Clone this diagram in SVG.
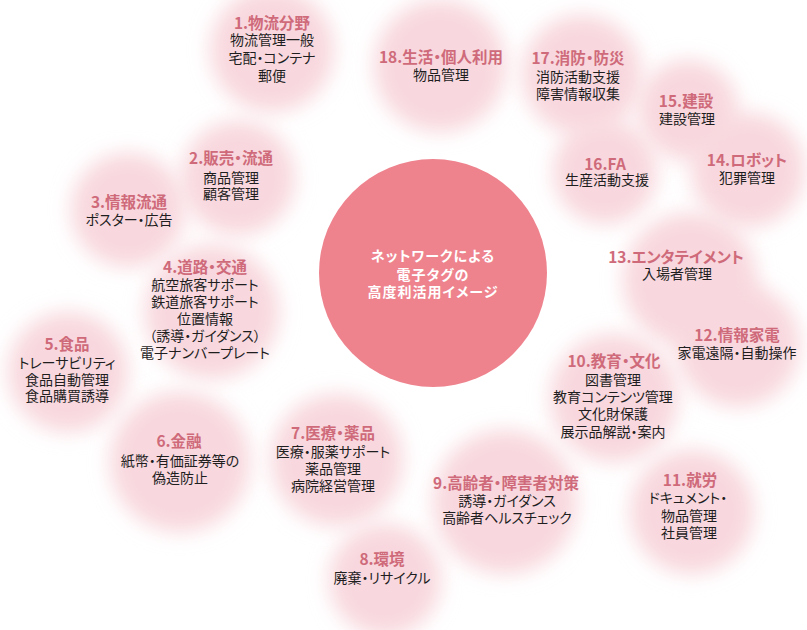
<svg xmlns="http://www.w3.org/2000/svg" width="807" height="630" viewBox="0 0 807 630">
<defs>
<filter id="soft" x="-50%" y="-50%" width="200%" height="200%"><feGaussianBlur stdDeviation="10"/></filter>
</defs>
<style>
.blob{fill:#f8d8de;filter:url(#soft)}
text{font-family:"Noto Sans CJK JP","Noto Sans",sans-serif;text-anchor:middle;font-feature-settings:"palt"}
.t{font-size:15.5px;font-weight:bold;fill:#cf6a7a}
.b{font-size:14px;fill:#1e1e1e}
.c{font-size:14px;font-weight:bold;fill:#fff;letter-spacing:1px}
</style>
<rect width="807" height="630" fill="#fff"/>
<g id="blobs">
<circle class="blob" cx="272" cy="50" r="62"/>
<circle class="blob" cx="440" cy="66" r="66"/>
<circle class="blob" cx="582" cy="75" r="60"/>
<circle class="blob" cx="688" cy="110" r="50"/>
<circle class="blob" cx="605" cy="172" r="52"/>
<circle class="blob" cx="748" cy="170" r="57"/>
<circle class="blob" cx="238" cy="178" r="57"/>
<circle class="blob" cx="128" cy="210" r="57"/>
<circle class="blob" cx="212" cy="312" r="67"/>
<circle class="blob" cx="690" cy="280" r="67"/>
<circle class="blob" cx="738" cy="345" r="62"/>
<circle class="blob" cx="68" cy="372" r="60"/>
<circle class="blob" cx="614" cy="398" r="64"/>
<circle class="blob" cx="180" cy="462" r="70"/>
<circle class="blob" cx="337" cy="460" r="66"/>
<circle class="blob" cx="505" cy="502" r="72"/>
<circle class="blob" cx="692" cy="512" r="62"/>
<circle class="blob" cx="385" cy="580" r="56"/>
</g>
<g id="center">
<circle cx="433" cy="273" r="114" fill="#ee838e"/>
<text class="c" x="433" y="260.5">ネットワークによる</text>
<text class="c" x="433" y="279.5">電子タグの</text>
<text class="c" x="433" y="296.5">高度利活用イメージ</text>
</g>
<g id="n1"><text class="t" x="272" y="28.5">1.物流分野</text><text class="b" x="272" y="45">物流管理一般</text><text class="b" x="272" y="63">宅配・コンテナ</text><text class="b" x="272" y="81">郵便</text></g>
<g id="n18"><text class="t" x="441" y="63">18.生活・個人利用</text><text class="b" x="441" y="79.5">物品管理</text></g>
<g id="n17"><text class="t" x="578" y="64">17.消防・防災</text><text class="b" x="578" y="81.5">消防活動支援</text><text class="b" x="578" y="98.5">障害情報収集</text></g>
<g id="n15"><text class="t" x="686" y="107">15.建設</text><text class="b" x="687" y="123.5">建設管理</text></g>
<g id="n16"><text class="t" x="605" y="170">16.FA</text><text class="b" x="607" y="184.5">生産活動支援</text></g>
<g id="n14"><text class="t" x="747" y="166">14.ロボット</text><text class="b" x="747" y="182.5">犯罪管理</text></g>
<g id="n2"><text class="t" x="231" y="164">2.販売・流通</text><text class="b" x="231" y="182.5">商品管理</text><text class="b" x="231" y="198.5">顧客管理</text></g>
<g id="n3"><text class="t" x="129" y="208">3.情報流通</text><text class="b" x="129" y="224.5">ポスター・広告</text></g>
<g id="n4"><text class="t" x="205" y="273">4.道路・交通</text><text class="b" x="205" y="289.5">航空旅客サポート</text><text class="b" x="205" y="306.5">鉄道旅客サポート</text><text class="b" x="205" y="323.5">位置情報</text><text class="b" x="205" y="340.5">（誘導・ガイダンス）</text><text class="b" x="205" y="357.5">電子ナンバープレート</text></g>
<g id="n13"><text class="t" x="676" y="263">13.エンタテイメント</text><text class="b" x="677" y="278.5">入場者管理</text></g>
<g id="n12"><text class="t" x="737" y="341">12.情報家電</text><text class="b" x="737" y="357.5">家電遠隔・自動操作</text></g>
<g id="n5"><text class="t" x="67" y="350">5.食品</text><text class="b" x="67" y="367.5">トレーサビリティ</text><text class="b" x="67" y="384.5">食品自動管理</text><text class="b" x="67" y="400.5">食品購買誘導</text></g>
<g id="n10"><text class="t" x="614" y="367">10.教育・文化</text><text class="b" x="613" y="384.5">図書管理</text><text class="b" x="613" y="401.5">教育コンテンツ管理</text><text class="b" x="613" y="418.5">文化財保護</text><text class="b" x="613" y="436.5">展示品解説・案内</text></g>
<g id="n6"><text class="t" x="179" y="447">6.金融</text><text class="b" x="180" y="465.5">紙幣・有価証券等の</text><text class="b" x="180" y="482.5">偽造防止</text></g>
<g id="n7"><text class="t" x="333" y="439">7.医療・薬品</text><text class="b" x="333" y="456.5">医療・服薬サポート</text><text class="b" x="333" y="473.5">薬品管理</text><text class="b" x="333" y="490.5">病院経営管理</text></g>
<g id="n9"><text class="t" x="506" y="489">9.高齢者・障害者対策</text><text class="b" x="507" y="505.5">誘導・ガイダンス</text><text class="b" x="507" y="522.5">高齢者ヘルスチェック</text></g>
<g id="n11"><text class="t" x="690" y="486">11.就労</text><text class="b" x="688" y="502.5">ドキュメント・</text><text class="b" x="689" y="520.5">物品管理</text><text class="b" x="689" y="537.5">社員管理</text></g>
<g id="n8"><text class="t" x="382" y="565">8.環境</text><text class="b" x="382" y="582.5">廃棄・リサイクル</text></g>
<g id="connectors"/>
</svg>
